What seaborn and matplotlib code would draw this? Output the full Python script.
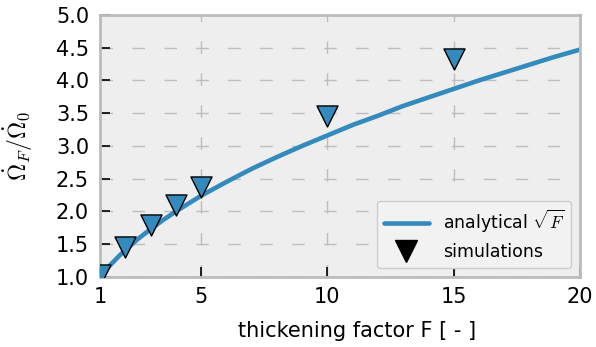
import numpy as np
import pandas as pd
import matplotlib
matplotlib.use('Agg')
import matplotlib.pyplot as plt
from matplotlib.lines import Line2D
import seaborn as sns

# analytical curve, values (sqrt F)
curve_F = [1, 1.25, 1.5, 1.75, 2, 2.5, 3, 3.5, 4, 5, 6, 7, 8, 9, 10, 11, 12, 13, 14,
           15, 16, 17, 18, 19, 20]
curve_val = [1.0, 1.12, 1.22, 1.32, 1.41, 1.58, 1.73, 1.87, 2.0, 2.24, 2.45, 2.65, 2.83,
             3.0, 3.16, 3.32, 3.46, 3.61, 3.74, 3.87, 4.0, 4.12, 4.24, 4.36, 4.47]

# simulations
sim_F = [1, 2, 3, 4, 5, 10, 15]
sim_val = [1.03, 1.45, 1.79, 2.10, 2.37, 3.45, 4.33]

x_ticks = [1, 5, 10, 15, 20]
y_ticks = [1.0, 1.5, 2.0, 2.5, 3.0, 3.5, 4.0, 4.5, 5.0]

blue = '#348ABD'

sns.set_theme(style='whitegrid', rc={
    'axes.facecolor': '#eeeeee',
    'axes.edgecolor': '#bcbcbc',
    'axes.linewidth': 2,
    'grid.color': '#bdbdbd',
    'grid.linewidth': 1,
    'xtick.direction': 'in',
    'ytick.direction': 'in',
    'xtick.bottom': True,
    'ytick.left': True,
    'xtick.major.size': 7,
    'ytick.major.size': 7,
    'xtick.color': 'black',
    'ytick.color': 'black',
    'text.color': 'black',
    'axes.labelcolor': 'black',
})
plt.rcParams['font.family'] = ['DejaVu Sans']
plt.rcParams['mathtext.fontset'] = 'cm'

df_curve = pd.DataFrame({'F': curve_F, 'val': curve_val})
df_sim = pd.DataFrame({'F': sim_F, 'val': sim_val})

fig, ax = plt.subplots(figsize=(5.96, 3.47), dpi=100)
fig.subplots_adjust(left=0.168, right=0.973, top=0.957, bottom=0.202)

sns.lineplot(data=df_curve, x='F', y='val', color=blue, linewidth=3.3, ax=ax, zorder=2)
sns.scatterplot(data=df_sim, x='F', y='val', marker='v', s=230, color=blue,
                edgecolor='black', linewidth=1, ax=ax, zorder=3)

ax.grid(True, linestyle=(0, (9, 14)), color='#bdbdbd', linewidth=1)
ax.set_xlim(1, 20)
ax.set_ylim(1.0, 5.0)
ax.set_xticks(x_ticks)
ax.set_yticks(y_ticks)
ax.set_xticklabels([str(t) for t in x_ticks], fontsize=15)
ax.set_yticklabels([f'{t:.1f}' for t in y_ticks], fontsize=15)
ax.tick_params(axis='y', width=1.2, pad=8)
ax.tick_params(axis='x', width=1.2, pad=7)
ax.set_xlabel('thickening factor F [ - ]', fontsize=15)
ax.xaxis.set_label_coords(0.535, -0.17)
ax.set_ylabel(r'$\dot{\Omega}_F/\dot{\Omega}_0$', fontsize=17)
ax.yaxis.set_label_coords(-0.135, 0.5)

handles = [Line2D([], [], color=blue, linewidth=3.3),
           Line2D([], [], color='black', marker='v', linestyle='none', markersize=16)]
ax.legend(handles, [r'analytical $\sqrt{F}$', 'simulations'], loc='lower right',
          fontsize=12.5, frameon=True, facecolor='#f2f2f2', edgecolor='#cccccc',
          framealpha=1.0, handlelength=2.6)

fig.savefig('out.png', dpi=100)
